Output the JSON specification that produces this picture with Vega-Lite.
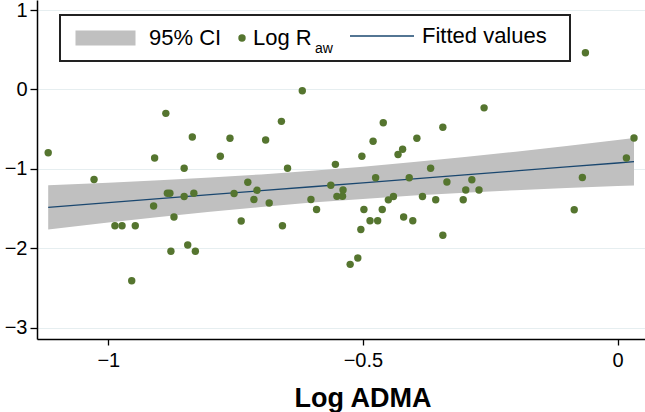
{
  "$schema": "https://vega.github.io/schema/vega-lite/v6.json",
  "autosize": {"type": "none"},
  "width": 608,
  "height": 339,
  "padding": {"left": 37, "top": 0, "right": 0, "bottom": 73},
  "background": "white",
  "config": {
    "view": {"stroke": null},
    "font": "Liberation Sans",
    "axis": {"labelFont": "Liberation Sans", "labelColor": "#000", "titleColor": "#000", "domainColor": "#000", "tickColor": "#000"},
    "legend": {"strokeWidth": 2, "labelFont": "Liberation Sans", "labelFontSize": 22, "labelColor": "#000", "titleFont": "Liberation Sans", "titleColor": "#000", "titleFontWeight": "normal"}
  },
  "datasets": {
    "pts": [
      {"x": -1.118, "y": -0.797}, {"x": -1.028, "y": -1.134}, {"x": -0.987, "y": -1.716}, {"x": -0.973, "y": -1.716},
      {"x": -0.954, "y": -2.408}, {"x": -0.947, "y": -1.716}, {"x": -0.911, "y": -1.468}, {"x": -0.909, "y": -0.864},
      {"x": -0.887, "y": -0.301}, {"x": -0.884, "y": -1.308}, {"x": -0.879, "y": -1.308}, {"x": -0.877, "y": -2.038},
      {"x": -0.871, "y": -1.606}, {"x": -0.851, "y": -0.993}, {"x": -0.851, "y": -1.348}, {"x": -0.844, "y": -1.959},
      {"x": -0.835, "y": -0.599}, {"x": -0.832, "y": -1.308}, {"x": -0.829, "y": -2.038}, {"x": -0.78, "y": -0.841},
      {"x": -0.761, "y": -0.614}, {"x": -0.753, "y": -1.311}, {"x": -0.739, "y": -1.657}, {"x": -0.726, "y": -1.168},
      {"x": -0.714, "y": -1.386}, {"x": -0.708, "y": -1.27}, {"x": -0.691, "y": -0.637}, {"x": -0.684, "y": -1.43},
      {"x": -0.66, "y": -0.402}, {"x": -0.658, "y": -1.716}, {"x": -0.648, "y": -0.993}, {"x": -0.619, "y": -0.016},
      {"x": -0.602, "y": -1.386}, {"x": -0.591, "y": -1.512}, {"x": -0.563, "y": -1.207}, {"x": -0.554, "y": -0.943},
      {"x": -0.551, "y": -1.346}, {"x": -0.539, "y": -1.267}, {"x": -0.54, "y": -1.345}, {"x": -0.525, "y": -2.202},
      {"x": -0.51, "y": -2.123}, {"x": -0.504, "y": -1.764}, {"x": -0.502, "y": -0.842}, {"x": -0.498, "y": -1.512},
      {"x": -0.486, "y": -1.654}, {"x": -0.48, "y": -0.653}, {"x": -0.475, "y": -1.112}, {"x": -0.471, "y": -1.654},
      {"x": -0.462, "y": -1.512}, {"x": -0.46, "y": -0.419}, {"x": -0.45, "y": -1.39}, {"x": -0.44, "y": -1.348},
      {"x": -0.431, "y": -0.82}, {"x": -0.422, "y": -0.753}, {"x": -0.42, "y": -1.606}, {"x": -0.409, "y": -1.112},
      {"x": -0.402, "y": -1.654}, {"x": -0.394, "y": -0.614}, {"x": -0.383, "y": -1.348}, {"x": -0.367, "y": -0.993},
      {"x": -0.357, "y": -1.389}, {"x": -0.343, "y": -0.477}, {"x": -0.343, "y": -1.836}, {"x": -0.335, "y": -1.166},
      {"x": -0.303, "y": -1.389}, {"x": -0.298, "y": -1.267}, {"x": -0.286, "y": -1.137}, {"x": -0.272, "y": -1.267},
      {"x": -0.262, "y": -0.232}, {"x": -0.085, "y": -1.515}, {"x": -0.069, "y": -1.109}, {"x": -0.063, "y": 0.461},
      {"x": 0.0175, "y": -0.864}, {"x": 0.0324, "y": -0.612}
    ],
    "band": [
      {"x": -1.118, "lo": -1.763, "hi": -1.205, "fit": -1.484},
      {"x": -1.0, "lo": -1.676, "hi": -1.174, "fit": -1.425},
      {"x": -0.9, "lo": -1.606, "hi": -1.144, "fit": -1.375},
      {"x": -0.8, "lo": -1.54, "hi": -1.11, "fit": -1.325},
      {"x": -0.7, "lo": -1.48, "hi": -1.07, "fit": -1.275},
      {"x": -0.6, "lo": -1.425, "hi": -1.025, "fit": -1.225},
      {"x": -0.5, "lo": -1.378, "hi": -0.973, "fit": -1.176},
      {"x": -0.4, "lo": -1.336, "hi": -0.915, "fit": -1.126},
      {"x": -0.3, "lo": -1.3, "hi": -0.852, "fit": -1.076},
      {"x": -0.2, "lo": -1.268, "hi": -0.783, "fit": -1.026},
      {"x": -0.1, "lo": -1.241, "hi": -0.712, "fit": -0.976},
      {"x": 0.0, "lo": -1.215, "hi": -0.637, "fit": -0.926},
      {"x": 0.0324, "lo": -1.208, "hi": -0.612, "fit": -0.91}
    ]
  },
  "layer": [
    {
      "data": {"name": "band"},
      "mark": {"type": "area", "opacity": 1},
      "encoding": {
        "x": {
          "field": "x", "type": "quantitative",
          "scale": {"domain": [-1.14, 0.054], "nice": false, "zero": false},
          "axis": {
            "values": [-1, -0.5, 0], "format": "~g", "grid": false,
            "domainWidth": 1.5, "tickSize": 6, "tickWidth": 1.3,
            "labelFontSize": 20, "labelPadding": 5,
            "title": "Log ADMA", "titleFont": "Liberation Sans", "titleFontWeight": "bold", "titleFontSize": 27,
            "titleX": 325.5, "titleY": 67, "titleAlign": "center", "titleBaseline": "alphabetic"
          }
        },
        "y": {
          "field": "lo", "type": "quantitative",
          "scale": {"domain": [-3.142, 1.126], "nice": false, "zero": false},
          "axis": {
            "values": [-3, -2, -1, 0, 1], "format": "d", "title": null,
            "grid": true, "gridColor": "#e6eef0", "gridWidth": 1,
            "domainWidth": 1.5, "tickSize": 7, "tickWidth": 1.3,
            "labelFontSize": 20, "labelPadding": 3
          }
        },
        "y2": {"field": "hi"},
        "fill": {
          "datum": "95% CI", "type": "nominal",
          "scale": {"domain": ["95% CI"], "range": ["#c0c0c0"]},
          "legend": {
            "title": "Fitted values",
            "titleOrient": "right", "titleFontSize": 22, "titlePadding": 212, "titleLimit": 1000, "titleColor": "transparent",
            "orient": "none", "legendX": 23, "legendY": 15,
            "strokeColor": "#222", "padding": 12,
            "symbolType": "M-1,-1H7V1H-1Z", "symbolSize": 225, "symbolStrokeWidth": 0,
            "symbolFillColor": "#c0c0c0", "symbolOpacity": 1,
            "labelOffset": 55
          }
        }
      }
    },
    {
      "data": {"name": "band"},
      "mark": {"type": "line", "strokeWidth": 1.3},
      "encoding": {
        "x": {"field": "x", "type": "quantitative"},
        "y": {"field": "fit", "type": "quantitative"},
        "stroke": {
          "datum": "Fitted values", "type": "nominal",
          "scale": {"domain": ["Fitted values"], "range": ["#1a476f"]},
          "legend": {
            "title": null,
            "orient": "none", "legendX": 312, "legendY": 3,
            "padding": 0,
            "symbolType": "stroke", "symbolSize": 4096, "symbolStrokeWidth": 1.5,
            "labelOffset": 7
          }
        }
      }
    },
    {
      "data": {"name": "pts"},
      "mark": {"type": "point", "filled": true, "size": 55, "opacity": 1, "color": "#55752f"},
      "encoding": {
        "x": {"field": "x", "type": "quantitative"},
        "y": {"field": "y", "type": "quantitative"},
        "shape": {
          "datum": "Log R", "type": "nominal",
          "scale": {"domain": ["Log R"], "range": ["circle"]},
          "legend": {
            "title": "aw",
            "titleOrient": "right", "titleAnchor": "end", "titleBaseline": "middle", "titleFontSize": 14, "titlePadding": 3,
            "orient": "none", "legendX": 194, "legendY": 27,
            "padding": 0,
            "symbolSize": 55, "symbolStrokeWidth": 0, "symbolFillColor": "#55752f", "symbolOpacity": 1,
            "labelOffset": 0
          }
        }
      }
    }
  ]
}
